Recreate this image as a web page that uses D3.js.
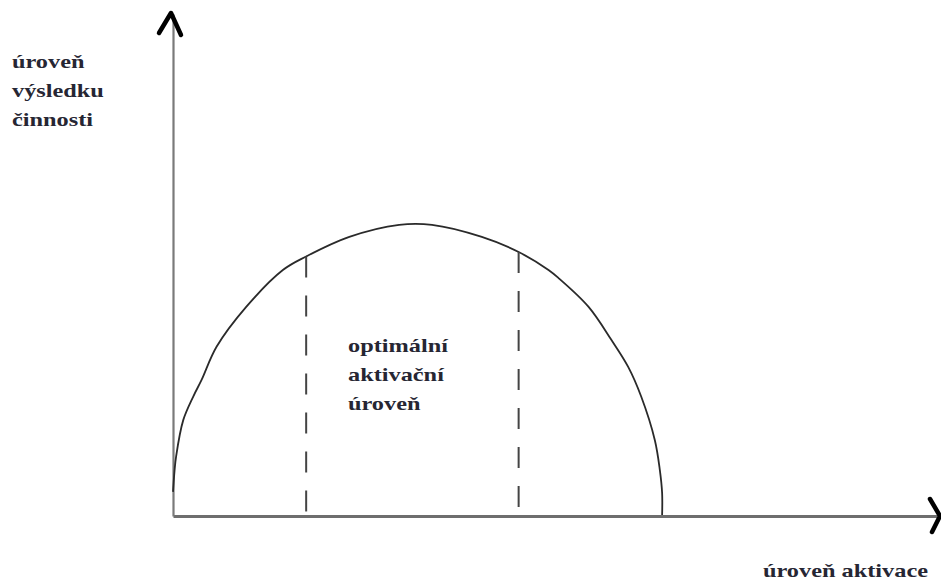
<!DOCTYPE html>
<html>
<head>
<meta charset="utf-8">
<script src="https://cdn.jsdelivr.net/npm/d3@7"></script>
<style>
  html, body { margin: 0; padding: 0; background: #fff; }
  svg { display: block; }
</style>
</head>
<body>
<div id="chart"></div>
<script>
// body of the inverted-U curve (activation level -> performance level)
const activace = [0, 0.2, 0.4, 1.34, 2.65, 3.74, 5.7, 9.61, 14.38, 17.43, 23.08, 29.6, 33.9, 40.42, 45.24, 49.15, 50.46, 54.37, 57.37, 59.58, 61.28, 63.07, 63.72, 64.02, 64.02];
const vykon    = [4.8, 9.0, 11.8, 19.1, 23.8, 27.1, 33.7, 41.7, 49.0, 51.7, 55.6, 58.0, 58.0, 55.6, 52.6, 49.0, 47.4, 41.7, 35.1, 29.7, 23.8, 15.1, 9.2, 4.6, 0.2];

// optimal zone boundaries and where they meet the curve
const optimumX = [17.43, 45.24];
const optimumTop = [51.7, 52.6];

const yLabel = ["úroveň", "výsledku", "činnosti"];
const zoneLabel = ["optimální", "aktivační", "úroveň"];
const xLabel = "úroveň aktivace";

const width = 941, height = 580;
const origin = { x: 173, y: 516 };

const svg = d3.select("#chart").append("svg")
    .attr("width", width)
    .attr("height", height);

const x = d3.scaleLinear().domain([0, 100]).range([origin.x, 937]);
const y = d3.scaleLinear().domain([0, 100]).range([origin.y, 14]);

// axes without ticks, just the lines
const xAxis = svg.append("g")
    .attr("transform", `translate(0,${origin.y})`)
    .call(d3.axisBottom(x).ticks(0).tickSize(0).tickSizeOuter(0));
const yAxis = svg.append("g")
    .attr("transform", `translate(${origin.x},0)`)
    .call(d3.axisLeft(y).ticks(0).tickSize(0).tickSizeOuter(0));
xAxis.select(".domain").attr("stroke", "#6e6e6e").attr("stroke-width", 3);
yAxis.select(".domain").attr("stroke", "#7a7a7a").attr("stroke-width", 2.2);

// arrow heads (chevrons)
const tipX = [x(100) + 3, y(0)];
svg.append("path")
    .attr("d", `M${tipX[0] - 10},${tipX[1] - 17} L${tipX[0]},${tipX[1]} L${tipX[0] - 8},${tipX[1] + 16}`)
    .attr("fill", "none").attr("stroke", "#000").attr("stroke-width", 4.5)
    .attr("stroke-linecap", "round").attr("stroke-linejoin", "round");
const tipY = [x(0) - 2, y(100) - 1];
svg.append("path")
    .attr("d", `M${tipY[0] - 12},${tipY[1] + 20} L${tipY[0]},${tipY[1]} L${tipY[0] + 10},${tipY[1] + 22}`)
    .attr("fill", "none").attr("stroke", "#000").attr("stroke-width", 4.5)
    .attr("stroke-linecap", "round").attr("stroke-linejoin", "round");

// curve
const pts = activace.map((a, i) => [a, vykon[i]]);
const line = d3.line()
    .x(d => x(d[0]))
    .y(d => y(d[1]))
    .curve(d3.curveCatmullRom.alpha(0.5));
svg.append("path")
    .datum(pts)
    .attr("d", line)
    .attr("fill", "none")
    .attr("stroke", "#2a2a2a")
    .attr("stroke-width", 1.8);

// dashed boundaries of the optimal zone
svg.selectAll(".hranice")
    .data(optimumX)
    .enter()
    .append("line")
    .attr("class", "hranice")
    .attr("x1", d => x(d))
    .attr("x2", d => x(d))
    .attr("y1", (d, i) => y(optimumTop[i]))
    .attr("y2", y(0))
    .attr("stroke", "#444")
    .attr("stroke-width", 2)
    .attr("stroke-dasharray", "21,18");

// labels (source text is horizontally stretched)
const stretch = 1.28;
function block(lines, px, py, step) {
    const g = svg.append("g").attr("transform", `translate(${px},${py}) scale(${stretch},1)`);
    lines.forEach((t, i) => {
        g.append("text")
            .attr("x", 0)
            .attr("y", i * step)
            .attr("font-family", "'Liberation Serif', 'Times New Roman', 'DejaVu Serif', serif")
            .attr("font-size", "19px")
            .attr("font-weight", "bold")
            .attr("fill", "#262633")
            .text(t);
    });
}
block(yLabel, 12, 68, 29);
block(zoneLabel, 348, 351.5, 29.5);
block([xLabel], 763, 577, 0);
</script>
</body>
</html>
